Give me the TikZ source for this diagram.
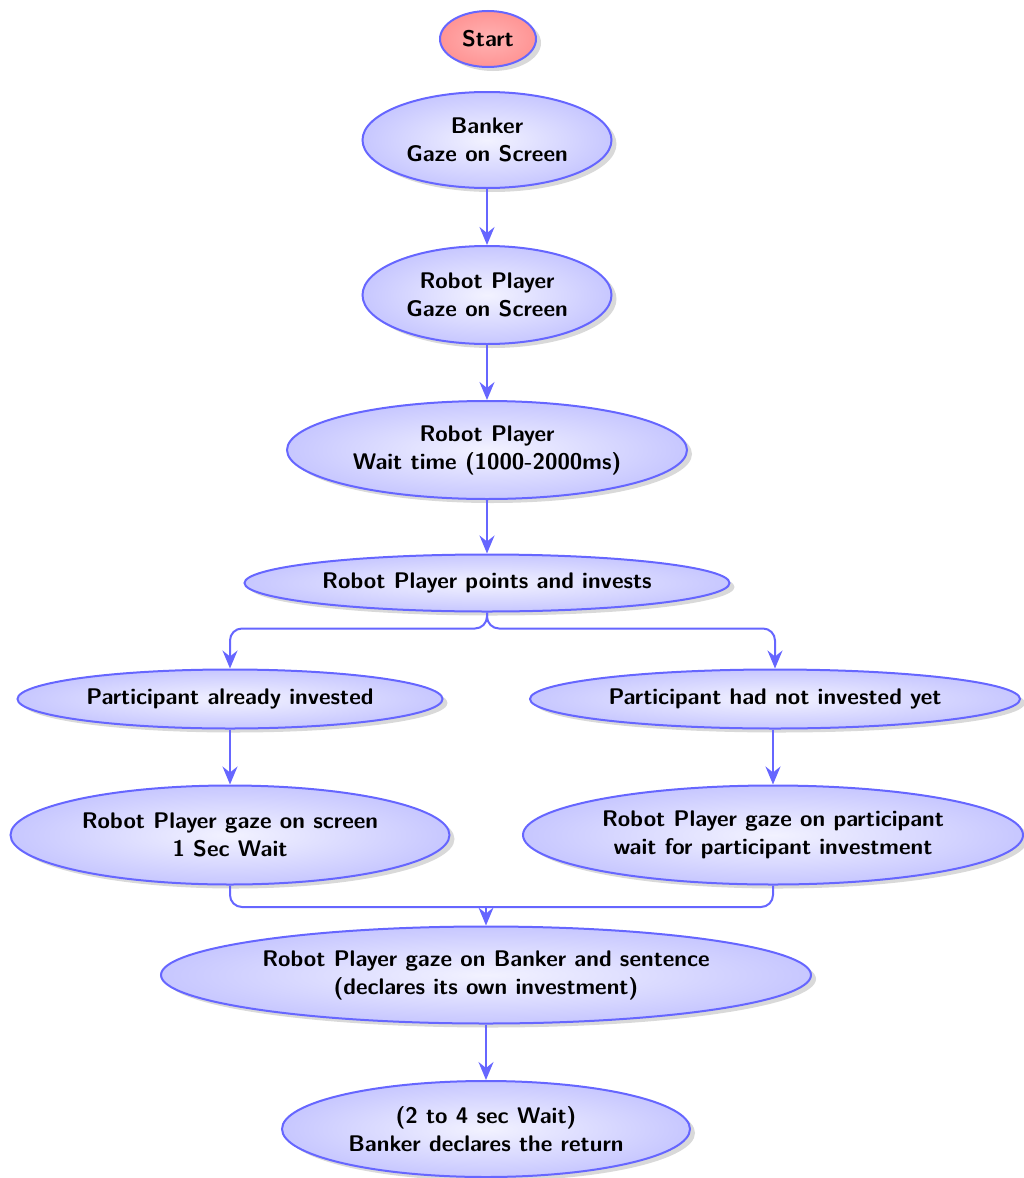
\documentclass[tikz,border=0pt]{standalone}
\usetikzlibrary{shapes.geometric,shadows,arrows.meta,calc}
\begin{document}
\begin{tikzpicture}[x=0.5pt,y=-0.5pt,
  every node/.style={font=\fontsize{11.3}{14}\selectfont\sffamily\bfseries},
  base/.style={ellipse, draw=blue!60, line width=1pt, inner sep=1pt, align=center,
    drop shadow={opacity=0.3, shadow xshift=2.5pt, shadow yshift=-2pt}},
  bubble/.style={base, shading=radial, inner color=blue!5, outer color=blue!22},
  startnode/.style={base, shading=radial, inner color=red!30, outer color=red!42},
  conn/.style={draw=blue!60, line width=1pt, -{Stealth[length=9pt,width=7.5pt,inset=3pt]}},
  bare/.style={draw=blue!60, line width=1pt}]
\useasboundingbox (0,0) rectangle (1023,1178);

\node[startnode, minimum width=48pt, minimum height=28pt] (start) at (488,39) {Start};
\node[bubble, minimum width=124.5pt, minimum height=48pt] (banker) at (487,140) {Banker\\Gaze on Screen};
\node[bubble, minimum width=124.5pt, minimum height=49pt] (rp1) at (487,295) {Robot Player\\Gaze on Screen};
\node[bubble, minimum width=200pt, minimum height=49pt] (rp2) at (487,450) {Robot Player\\Wait time (1000-2000ms)};
\node[bubble, minimum width=242.5pt, minimum height=28.5pt] (pts) at (487,583) {Robot Player points and invests};
\node[bubble, minimum width=212.5pt, minimum height=29.5pt] (pa) at (230,699) {Participant already invested};
\node[bubble, minimum width=245pt, minimum height=29.5pt] (pn) at (775,699) {Participant had not invested yet};
\node[bubble, minimum width=219.5pt, minimum height=49.5pt] (ga) at (230,835) {Robot Player gaze on screen\\1 Sec Wait};
\node[bubble, minimum width=250pt, minimum height=49.5pt] (gn) at (773,835) {Robot Player gaze on participant\\wait for participant investment};
\node[bubble, minimum width=325pt, minimum height=48.5pt] (gb) at (486,975) {Robot Player gaze on Banker and sentence\\(declares its own investment)};
\node[bubble, minimum width=204pt, minimum height=48pt] (ret) at (486,1129) {(2 to 4 sec Wait)\\Banker declares the return};

\draw[conn] (banker) -- (rp1);
\draw[conn] (rp1) -- (rp2);
\draw[conn] (rp2) -- (pts);
\draw[conn, rounded corners=6pt] (pts.south) -- ++(0,16) -| (pa.north);
\draw[conn, rounded corners=6pt] (pts.south) -- ++(0,16) -| (pn.north);
\draw[conn] (pa) -- (ga);
\draw[conn] (pn.south -| gn.north) -- (gn.north);
\coordinate (m) at (486,907);
\draw[bare, rounded corners=6pt] (ga.south) |- (m);
\draw[bare, rounded corners=6pt] (gn.south) |- (m);
\draw[conn] (m) -- (gb.north);
\draw[conn] (gb) -- (ret);
\end{tikzpicture}
\end{document}
